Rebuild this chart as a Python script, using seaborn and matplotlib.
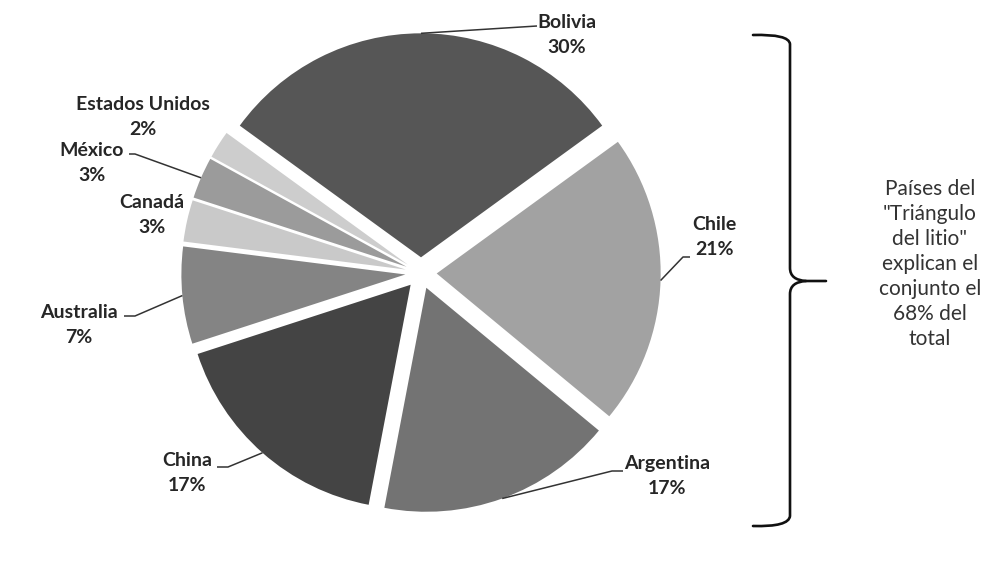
import numpy as np
import matplotlib
matplotlib.use("Agg")
import matplotlib.pyplot as plt
from matplotlib.path import Path
from matplotlib.patches import PathPatch
import seaborn as sns

# ---- data ----
countries = ["Bolivia", "Chile", "Argentina", "China", "Australia",
             "Canadá", "México", "Estados Unidos"]
shares = [30, 21, 17, 17, 7, 3, 3, 2]
pct_labels = ["30%", "21%", "17%", "17%", "7%", "3%", "3%", "2%"]
slice_colors = ["#565656", "#a2a2a2", "#737373", "#444444", "#848484",
                "#c9c9c9", "#9b9b9b", "#cdcdcd"]
note_lines = ["Países del", "\"Triángulo", "del litio\"", "explican el",
              "conjunto el", "68% del", "total"]

sns.set_theme(style="white")
plt.rcParams['font.family'] = ['Lato', 'DejaVu Sans']

W, H = 990, 572
fig = plt.figure(figsize=(9.9, 5.72), dpi=100)
fig.patch.set_facecolor("white")
ax = fig.add_axes([0, 0, 1, 1])

CX, CY, R = 421, 273, 224


def P(px, py):
    return ((px - CX) / R, (CY - py) / R)


wedges, _ = ax.pie(shares, colors=slice_colors, startangle=144,
                   counterclock=False, explode=[0.07] * len(shares),
                   radius=1, center=(0, 0),
                   wedgeprops=dict(linewidth=0))

ax.set_xlim(P(0, 0)[0], P(W, 0)[0])
ax.set_ylim(P(0, H)[1], P(0, 0)[1])
ax.set_aspect('auto')
ax.axis('off')

# label layout (pixel positions): text center, leader path after wedge edge
layout = {
    "Bolivia": ((567, 35), [(537, 26)]),
    "Chile": ((714, 237), [(683, 257), (690, 257)]),
    "Argentina": ((667, 476), [(612, 471), (623, 471)]),
    "China": ((187, 473), [(228, 467), (217, 467)]),
    "Australia": ((79, 325), [(135, 316), (124, 316)]),
    "Canadá": ((152, 215), None),
    "México": ((92, 163), [(135, 154), (129, 154)]),
    "Estados Unidos": ((143, 117), None),
}

for w, name, pct in zip(wedges, countries, pct_labels):
    (tx, ty), leader = layout[name]
    ax.text(*P(tx, ty), f"{name}\n{pct}", ha="center", va="center",
            fontsize=14, fontweight="bold", color="#262626",
            linespacing=1.55)
    if leader:
        th = np.deg2rad((w.theta1 + w.theta2) / 2)
        sx = w.center[0] + w.r * np.cos(th)
        sy = w.center[1] + w.r * np.sin(th)
        xs = [sx] + [P(*p)[0] for p in leader]
        ys = [sy] + [P(*p)[1] for p in leader]
        ax.plot(xs, ys, color="#333333", lw=1.1, solid_capstyle="butt")

# brace
def brace_path(pts_codes):
    verts = [P(*p) for p, _ in pts_codes]
    codes = [c for _, c in pts_codes]
    return Path(verts, codes)

M, L, C3 = Path.MOVETO, Path.LINETO, Path.CURVE3
upper = brace_path([((753, 35), M), ((789, 34), C3), ((790, 44), C3),
                    ((790, 268), L), ((790, 280), C3), ((806, 281), C3),
                    ((826, 281), L)])
lower = brace_path([((806, 281), M), ((790, 282), C3), ((790, 294), C3),
                    ((790, 516), L), ((789, 527), C3), ((753, 526), C3)])
for pth in (upper, lower):
    ax.add_patch(PathPatch(pth, facecolor="none", edgecolor="#111111",
                           lw=1.9, capstyle="round", joinstyle="round"))

ax.text(*P(930, 264), "\n".join(note_lines), ha="center", va="center",
        fontsize=15, color="#333333", linespacing=1.32)

fig.savefig("out.png", dpi=100, facecolor="white")
